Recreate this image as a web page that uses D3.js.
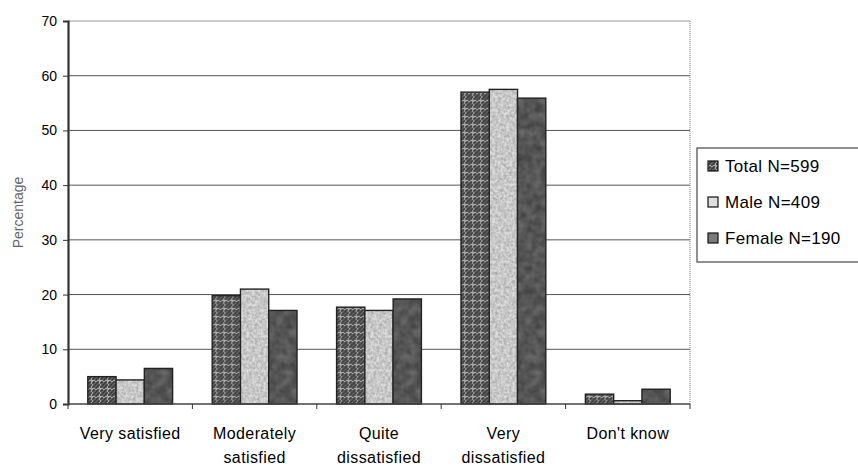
<!DOCTYPE html>
<html>
<head>
<meta charset="utf-8">
<script src="https://cdn.jsdelivr.net/npm/d3@7"></script>
<style>
  body { margin: 0; background: #fff; }
  svg { font-family: "Liberation Sans", Arial, sans-serif; }
</style>
</head>
<body>
<svg width="858" height="468"></svg>
<script>
const categories = [['Very satisfied'], ['Moderately', 'satisfied'], ['Quite', 'dissatisfied'], ['Very', 'dissatisfied'], ["Don't know"]];
const seriesNames = ['Total N=599', 'Male N=409', 'Female N=190'];
const total = [5.0, 19.8, 17.7, 57.0, 1.8];
const male = [4.4, 21.0, 17.1, 57.5, 0.6];
const female = [6.5, 17.1, 19.2, 55.9, 2.7];
const yTicks = [0, 10, 20, 30, 40, 50, 60, 70];

const series = [total, male, female];
const svg = d3.select('svg');

const margin = { top: 21, left: 68, right: 168, bottom: 64 };
const width = +svg.attr('width');
const height = +svg.attr('height');
const innerWidth = width - margin.left - margin.right;
const innerHeight = height - margin.top - margin.bottom;

// fill textures
const defs = svg.append('defs');
const fret = defs.append('pattern')
    .attr('id', 'fret')
    .attr('patternUnits', 'userSpaceOnUse')
    .attr('width', 8).attr('height', 8);
fret.append('rect').attr('width', 8).attr('height', 8).attr('fill', '#a8a8a8');
fret.append('path')
    .attr('d', 'M0,6 L2,6 L2,4 L4,4 L4,2 L6,2 L6,0 M4,8 L4,6 L6,6 L6,4 L8,4 M0,2 L2,2 L2,0')
    .attr('fill', 'none').attr('stroke', '#333').attr('stroke-width', 1.5);

const mottle = (id, freq, lo, hi) => {
    const f = defs.append('filter').attr('id', id)
        .attr('x', 0).attr('y', 0).attr('width', 1).attr('height', 1);
    f.append('feTurbulence').attr('type', 'fractalNoise')
        .attr('baseFrequency', freq).attr('numOctaves', 2).attr('seed', 3);
    f.append('feColorMatrix').attr('type', 'matrix')
        .attr('values', `0 0 0 0 0  0 0 0 0 0  0 0 0 0 0  ${hi} 0 0 0 ${lo}`);
    f.append('feComposite').attr('in2', 'SourceGraphic').attr('operator', 'in');
};
mottle('speck', 0.35, -0.1, 0.4);
mottle('blotch', 0.12, 0.05, 0.5);

const fills = ['url(#fret)', '#dedede', '#7a7a7a'];
const textures = [null, 'url(#speck)', 'url(#blotch)'];

const x0 = d3.scaleBand()
    .domain(d3.range(categories.length))
    .range([0, innerWidth]);
const x1 = d3.scaleBand()
    .domain(d3.range(series.length))
    .range([0, x0.bandwidth()])
    .paddingInner(0)
    .paddingOuter(0.7);
const y = d3.scaleLinear().domain([0, 70]).range([innerHeight, 0]);

const g = svg.append('g').attr('transform', `translate(${margin.left},${margin.top})`);

// gridlines
g.append('g').selectAll('line')
    .data(yTicks.filter(d => d > 0))
    .join('line')
    .attr('x1', 0).attr('x2', innerWidth)
    .attr('y1', d => y(d)).attr('y2', d => y(d))
    .attr('stroke', d => d === 70 ? '#999' : '#555')
    .attr('stroke-width', 1);

// right border of plot area
g.append('line')
    .attr('x1', innerWidth).attr('x2', innerWidth)
    .attr('y1', 0).attr('y2', innerHeight)
    .attr('stroke', '#777').attr('stroke-dasharray', '1,1');

// bars
const groups = g.append('g').selectAll('g')
    .data(categories)
    .join('g')
    .attr('transform', (d, i) => `translate(${x0(i)},0)`);

groups.each(function (c, ci) {
    const grp = d3.select(this);
    series.forEach((s, si) => {
        const bx = x1(si), by = y(s[ci]), bh = innerHeight - y(s[ci]);
        grp.append('rect')
            .attr('x', bx).attr('y', by)
            .attr('width', x1.bandwidth()).attr('height', bh)
            .attr('fill', fills[si]);
        if (textures[si]) {
            grp.append('rect')
                .attr('x', bx).attr('y', by)
                .attr('width', x1.bandwidth()).attr('height', bh)
                .attr('fill', '#000')
                .attr('filter', textures[si]);
        }
        grp.append('rect')
            .attr('x', bx).attr('y', by)
            .attr('width', x1.bandwidth()).attr('height', bh)
            .attr('fill', 'none')
            .attr('stroke', '#222').attr('stroke-width', 1.4);
    });
});

// y axis
const yAxis = g.append('g')
    .call(d3.axisLeft(y).tickValues(yTicks).tickSize(5).tickPadding(6));
yAxis.select('.domain').attr('stroke', '#333').attr('stroke-width', 2.2);
yAxis.selectAll('.tick line').attr('stroke', '#333');
yAxis.selectAll('text').attr('font-size', 14).attr('fill', '#000');

// x axis
const xAxis = g.append('g').attr('transform', `translate(0,${innerHeight})`);
xAxis.append('line')
    .attr('x1', 0).attr('x2', innerWidth)
    .attr('stroke', '#444').attr('stroke-width', 1.3);
xAxis.selectAll('.cat-tick')
    .data(d3.range(categories.length + 1))
    .join('line')
    .attr('class', 'cat-tick')
    .attr('x1', i => i < categories.length ? x0(i) : innerWidth)
    .attr('x2', i => i < categories.length ? x0(i) : innerWidth)
    .attr('y1', 0).attr('y2', 5)
    .attr('stroke', '#333');

xAxis.selectAll('.cat-label')
    .data(categories)
    .join('text')
    .attr('class', 'cat-label')
    .attr('text-anchor', 'middle')
    .attr('font-size', 16)
    .attr('letter-spacing', 0.4)
    .attr('fill', '#000')
    .attr('transform', (d, i) => `translate(${x0(i) + x0.bandwidth() / 2},35)`)
    .selectAll('tspan')
    .data(d => d)
    .join('tspan')
    .attr('x', 0)
    .attr('dy', (d, i) => i === 0 ? 0 : 24)
    .text(d => d);

// axis title
svg.append('text')
    .attr('transform', `translate(23,${margin.top + innerHeight / 2}) rotate(-90)`)
    .attr('text-anchor', 'middle')
    .attr('font-size', 14)
    .attr('fill', '#666')
    .text('Percentage');

// legend
const legend = svg.append('g').attr('transform', 'translate(697,148)');
legend.append('rect')
    .attr('width', 170).attr('height', 114)
    .attr('fill', '#fff').attr('stroke', '#555').attr('stroke-width', 1.3);
const items = legend.selectAll('.item')
    .data(seriesNames)
    .join('g')
    .attr('class', 'item')
    .attr('transform', (d, i) => `translate(11,${18 + i * 36})`);
items.append('rect')
    .attr('x', 0).attr('y', -5).attr('width', 10).attr('height', 10)
    .attr('fill', (d, i) => fills[i])
    .attr('stroke', '#111').attr('stroke-width', 1.2);
items.append('text')
    .attr('x', 17).attr('y', 0)
    .attr('dy', '0.35em')
    .attr('font-size', 17)
    .attr('letter-spacing', 0.3)
    .attr('fill', '#000')
    .text(d => d);
</script>
</body>
</html>
